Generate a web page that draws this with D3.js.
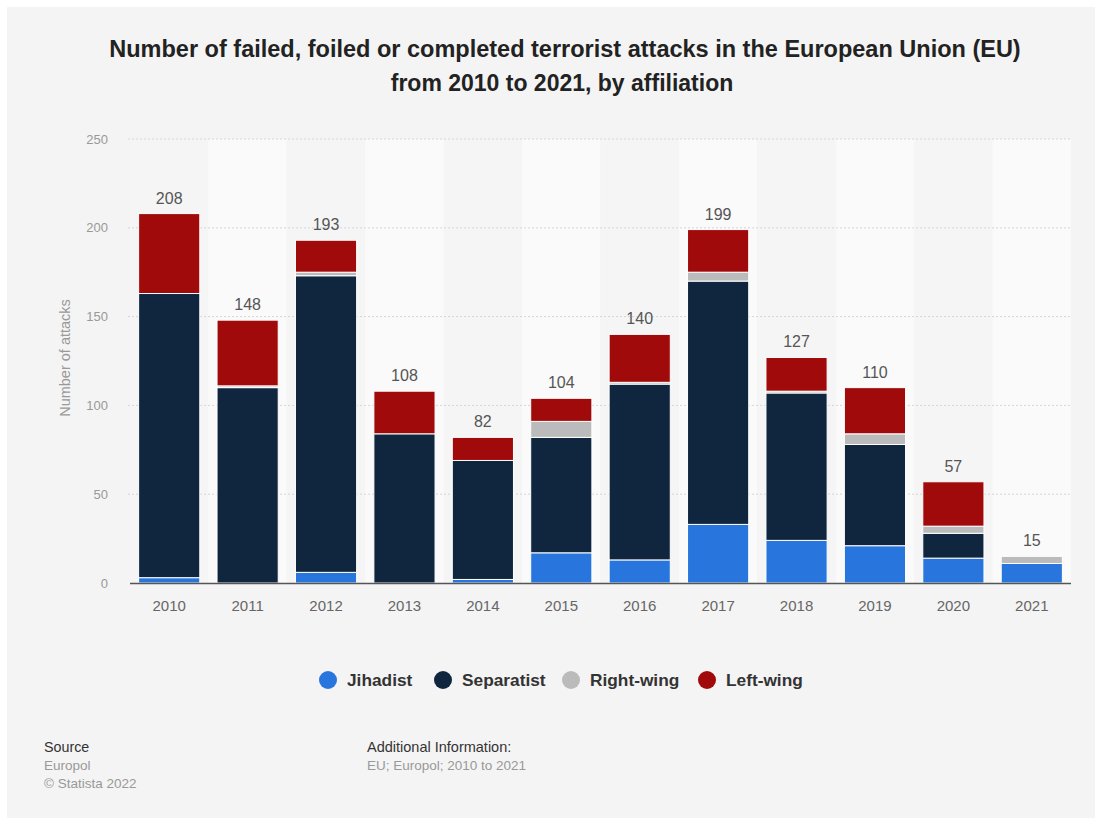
<!DOCTYPE html>
<html lang="en">
<head>
<meta charset="UTF-8">
<title>Terrorist attacks in the EU by affiliation</title>
<script src="https://d3js.org/d3.v7.min.js"></script>
<style>
    body { margin: 0; background: #fff; }
    svg text { font-family: "Liberation Sans", Arial, sans-serif; }
</style>
</head>
<body>
<svg id="chart" width="1102" height="825"></svg>
<script>
    // data
    var years = ["2010", "2011", "2012", "2013", "2014", "2015", "2016", "2017", "2018", "2019", "2020", "2021"];
    var seriesNames = ["Jihadist", "Separatist", "Right-wing", "Left-wing"];
    var jihadist   = [3, 0, 6, 0, 2, 17, 13, 33, 24, 21, 14, 11];
    var separatist = [160, 110, 167, 84, 67, 65, 99, 137, 83, 57, 14, 0];
    var rightWing  = [0, 1, 2, 0, 0, 9, 1, 5, 1, 6, 4, 4];
    var leftWing   = [45, 37, 18, 24, 13, 13, 27, 24, 19, 26, 25, 0];
    var totals     = [208, 148, 193, 108, 82, 104, 140, 199, 127, 110, 57, 15];
    var yTicks = [0, 50, 100, 150, 200, 250];

    var colors = ["#2876dd", "#10263f", "#bbbbbb", "#a10a0b"];

    var rows = years.map(function (y, i) {
        return { year: y, "Jihadist": jihadist[i], "Separatist": separatist[i],
                 "Right-wing": rightWing[i], "Left-wing": leftWing[i], total: totals[i] };
    });

    var svg = d3.select("#chart");

    // panel
    svg.append("rect").attr("x", 7).attr("y", 7).attr("width", 1088).attr("height", 811).attr("fill", "#f4f4f4");

    // title
    svg.append("text").attr("x", 565).attr("y", 57).attr("text-anchor", "middle")
        .attr("font-size", 23.5).attr("font-weight", "bold").attr("fill", "#222")
        .text("Number of failed, foiled or completed terrorist attacks in the European Union (EU)");
    svg.append("text").attr("x", 562).attr("y", 91).attr("text-anchor", "middle")
        .attr("font-size", 23).attr("font-weight", "bold").attr("fill", "#222")
        .text("from 2010 to 2021, by affiliation");

    var plotLeft = 130, plotRight = 1071, plotTop = 139, plotBottom = 583;

    var x = d3.scaleBand().domain(years).range([plotLeft, plotRight]).paddingInner(0.22).paddingOuter(0.11);
    var band = d3.scaleBand().domain(years).range([plotLeft, plotRight]);
    var y = d3.scaleLinear().domain([0, 250]).range([plotBottom, plotTop]);

    // alternating column backgrounds
    svg.append("g").selectAll("rect").data(years).join("rect")
        .attr("x", function (d) { return band(d); })
        .attr("y", plotTop)
        .attr("width", band.bandwidth())
        .attr("height", plotBottom - plotTop)
        .attr("fill", function (d, i) { return i % 2 ? "#fafafa" : "#f5f5f5"; });

    // grid
    svg.append("g").selectAll("line").data(yTicks.slice(1)).join("line")
        .attr("x1", plotLeft - 2).attr("x2", plotRight)
        .attr("y1", function (d) { return y(d); }).attr("y2", function (d) { return y(d); })
        .attr("stroke", "#d6d6d6").attr("stroke-dasharray", "2,2");

    // y axis labels
    var yAxis = d3.axisLeft(y).tickValues(yTicks).tickSize(0).tickPadding(22);
    var gy = svg.append("g").attr("transform", "translate(" + plotLeft + ",0)").call(yAxis);
    gy.select(".domain").remove();
    gy.selectAll("text").attr("font-size", 13).attr("fill", "#999").attr("font-family", "Liberation Sans, Arial, sans-serif");

    svg.append("text").attr("transform", "translate(70,358) rotate(-90)")
        .attr("text-anchor", "middle").attr("font-size", 14.5).attr("fill", "#999")
        .text("Number of attacks");

    // stacked bars
    var stack = d3.stack().keys(seriesNames)(rows);
    svg.append("g").selectAll("g").data(stack).join("g")
        .attr("fill", function (d, i) { return colors[i]; })
        .selectAll("rect").data(function (d) { return d.filter(function (p) { return p[1] > p[0]; }); }).join("rect")
        .attr("x", function (d) { return x(d.data.year); })
        .attr("y", function (d) { return y(d[1]); })
        .attr("width", x.bandwidth())
        .attr("height", function (d) { return y(d[0]) - y(d[1]); })
        .attr("stroke", "#fff").attr("stroke-width", 1);

    // totals
    svg.append("g").selectAll("text").data(rows).join("text")
        .attr("x", function (d) { return x(d.year) + x.bandwidth() / 2; })
        .attr("y", function (d) { return y(d.total) - 10; })
        .attr("text-anchor", "middle").attr("font-size", 16).attr("fill", "#555")
        .text(function (d) { return d.total; });

    // x axis
    var xAxis = d3.axisBottom(x).tickSize(0).tickPadding(17);
    var gx = svg.append("g").attr("transform", "translate(0," + plotBottom + ")").call(xAxis);
    gx.select(".domain").attr("d", "M" + plotLeft + ",0.5H" + plotRight).attr("stroke", "#555").attr("stroke-width", 1.5);
    gx.selectAll("text").attr("font-size", 15).attr("fill", "#666").attr("font-family", "Liberation Sans, Arial, sans-serif");

    // legend
    var legendX = [328, 443, 571, 707];
    var lg = svg.append("g").selectAll("g").data(seriesNames).join("g")
        .attr("transform", function (d, i) { return "translate(" + legendX[i] + ",680)"; });
    lg.append("circle").attr("r", 9).attr("fill", function (d, i) { return colors[i]; });
    lg.append("text").attr("x", 19).attr("y", 6).attr("font-size", 17.3).attr("font-weight", "bold")
        .attr("fill", "#333").text(function (d) { return d; });

    // footer
    var foot = svg.append("g");
    foot.append("text").attr("x", 44).attr("y", 752).attr("font-size", 14.3).attr("fill", "#333").text("Source");
    foot.append("text").attr("x", 44).attr("y", 770).attr("font-size", 13.5).attr("fill", "#999").text("Europol");
    foot.append("text").attr("x", 44).attr("y", 788).attr("font-size", 13.5).attr("fill", "#999").text("\u00a9 Statista 2022");
    foot.append("text").attr("x", 367).attr("y", 752).attr("font-size", 14.5).attr("fill", "#333").text("Additional Information:");
    foot.append("text").attr("x", 367).attr("y", 770).attr("font-size", 13.5).attr("fill", "#999").text("EU; Europol; 2010 to 2021");
</script>
</body>
</html>
